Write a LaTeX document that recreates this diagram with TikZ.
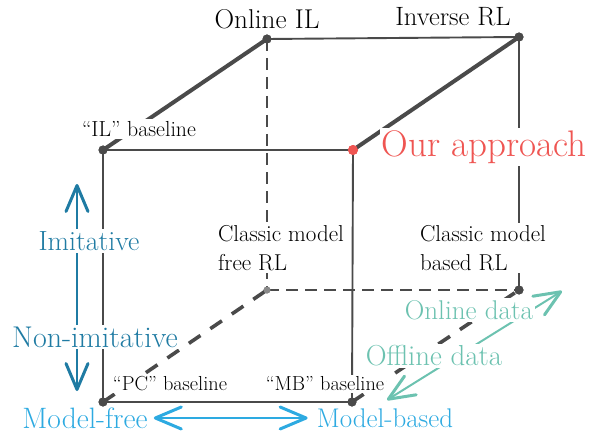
\documentclass[tikz,border=0pt]{standalone}
\usepackage{fontspec}
\usetikzlibrary{arrows.meta}
\definecolor{edgec}{HTML}{4A4A4A}
\definecolor{lightv}{HTML}{8A8A8A}
\definecolor{redc}{HTML}{EF5552}
\definecolor{imic}{HTML}{1F7BA3}
\definecolor{modc}{HTML}{2DAAE1}
\definecolor{datac}{HTML}{6CC2B0}
\begin{document}
\begin{tikzpicture}[x=1pt,y=-1pt]
\tikzset{
  thinedge/.style={draw=edgec, line width=1.9pt},
  thickedge/.style={draw=edgec, line width=4pt, line cap=round},
  dashedge/.style={draw=edgec, line width=2pt, dash pattern=on 12pt off 7pt},
  thickdash/.style={draw=edgec, line width=3.6pt, dash pattern=on 14pt off 12pt},
  vtx/.style={circle, fill=edgec, inner sep=0pt, minimum size=9pt},
  vtxsmall/.style={circle, fill=lightv, inner sep=0pt, minimum size=7pt},
  reddot/.style={circle, fill=redc, inner sep=0pt, minimum size=10pt},
  lbl/.style={fill=white, inner sep=2pt, text=black},
  handarrow/.style={line width=2pt, {Straight Barb[length=26pt,width=22pt,line width=3pt,round]}-{Straight Barb[length=26pt,width=22pt,line width=3pt,round]}},
}
\useasboundingbox (0,0) rectangle (589,433);

% vertices
\node[vtx] (IL) at (103,150) {};
\node[reddot] (OA) at (353,150) {};
\node[vtx] (OIL) at (267,39) {};
\node[vtx] (IRL) at (519,37) {};
\node[vtx] (PC) at (103,402) {};
\node[vtx] (MB) at (352,402) {};
\node[vtxsmall] (CMF) at (267,290) {};
\node[vtx] (CMB) at (519,290) {};

% hidden (back) edges
\draw[dashedge] (OIL.center) -- (CMF.center);
\draw[dashedge] (CMF.center) -- (CMB.center);
\draw[thickdash] (PC.center) -- (CMF.center);
\draw[thickdash] (MB.center) -- (CMB.center);

% visible edges
\draw[thinedge] (OIL.center) -- (IRL.center);
\draw[thinedge] (IRL.center) -- (CMB.center);
\draw[thickedge] (IL.center) -- (OIL.center);
\draw[thickedge] (OA.center) -- (IRL.center);
\draw[thinedge] (IL.center) -- (OA.center);
\draw[thinedge] (IL.center) -- (PC.center);
\draw[thinedge] (PC.center) -- (MB.center);
\draw[thinedge] (OA.center) -- (MB.center);

% axis arrows
\coordinate (imiTop) at (77,184);
\coordinate (imiBot) at (77,391);
\draw[handarrow, draw=imic] (imiTop) -- (imiBot);

\coordinate (dataTop) at (562,291);
\coordinate (dataBot) at (387,400);
\draw[handarrow, draw=datac] (dataBot) -- (dataTop);

% labels
\node[lbl, font=\fontsize{27.2pt}{30pt}\selectfont] (tOIL) at (267,19) {Online IL};
\node[lbl, font=\fontsize{26.5pt}{30pt}\selectfont] (tIRL) at (453,17) {Inverse RL};
\node[lbl, font=\fontsize{21.8pt}{24pt}\selectfont] (tIL) at (139,129) {“IL” baseline};
\node[lbl, text=redc, font=\fontsize{37pt}{40pt}\selectfont] (tOA) at (484,147) {Our approach};
\node[lbl, align=left, font=\fontsize{23pt}{29pt}\selectfont] (tCMF) at (281,248) {Classic model\\ free RL};
\node[lbl, align=left, font=\fontsize{23pt}{29pt}\selectfont] (tCMB) at (483,248) {Classic model\\ based RL};
\node[lbl, font=\fontsize{20.3pt}{23pt}\selectfont] (tPC) at (170,384) {“PC” baseline};
\node[lbl, font=\fontsize{20.3pt}{23pt}\selectfont] (tMB) at (325,384) {“MB” baseline};

\node[lbl, text=imic, font=\fontsize{27.8pt}{30pt}\selectfont] (tImi) at (89,241) {Imitative};
\node[lbl, text=imic, font=\fontsize{30pt}{32pt}\selectfont] (tNon) at (95,337) {Non-imitative};

\node[lbl, text=datac, font=\fontsize{27.1pt}{30pt}\selectfont] (tOn) at (469,310) {Online data};
\node[lbl, text=datac, font=\fontsize{28.9pt}{31pt}\selectfont] (tOff) at (434,356) {Offline data};

\node[inner sep=1pt, text=modc, font=\fontsize{29.5pt}{31pt}\selectfont] (tMF) at (85,418) {Model-free};
\node[inner sep=1pt, text=modc, font=\fontsize{27pt}{30pt}\selectfont] (tMBd) at (385,418) {Model-based};
\draw[handarrow, draw=modc, line width=2.5pt, shorten <=5pt, shorten >=8pt] (tMF.east) -- (tMBd.west);

% dots on top
\node[vtx] (ILd) at (IL) {};
\node[reddot] (OAd) at (OA) {};
\node[vtx] (OILd) at (OIL) {};
\node[vtx] (IRLd) at (IRL) {};
\node[vtx] (PCd) at (PC) {};
\node[vtx] (MBd) at (MB) {};
\node[vtxsmall] (CMFd) at (CMF) {};
\node[vtx] (CMBd) at (CMB) {};
\end{tikzpicture}
\end{document}
